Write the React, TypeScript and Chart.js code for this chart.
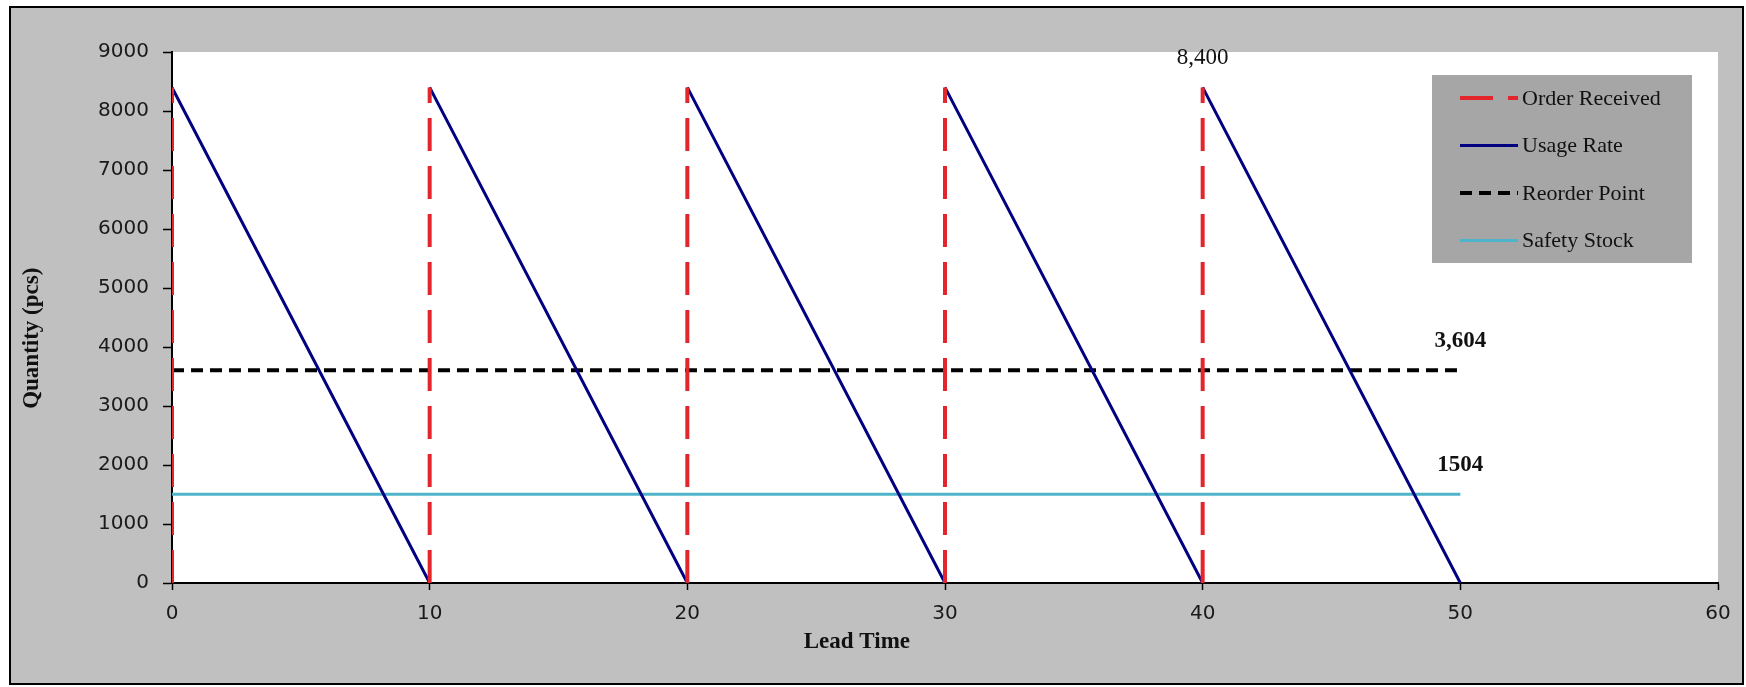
import React, { useEffect, useRef } from 'react';
import { Chart, registerables } from 'chart.js';

Chart.register(...registerables);

// ---- data ----
const cycleStart = [0, 10, 20, 30, 40];
const cycleEnd = [10, 20, 30, 40, 50];
const orderQuantity = 8400;
const reorderPoint = 3604;
const safetyStock = 1504;
const levelRange = [0, 50];
const seriesNames = ['Order Received', 'Usage Rate', 'Reorder Point', 'Safety Stock'];
const calloutText = ['8,400', '3,604', '1504'];
const xTicks = [0, 10, 20, 30, 40, 50, 60];
const yTicks = [0, 1000, 2000, 3000, 4000, 5000, 6000, 7000, 8000, 9000];
const xTitle = 'Lead Time';
const yTitle = 'Quantity (pcs)';

const SERIF = '"Liberation Serif", "Times New Roman", serif';
const SANS = '"DejaVu Sans", Verdana, sans-serif';

function buildOrder() {
  const pts: any[] = [];
  cycleStart.forEach((t) => {
    pts.push({ x: t, y: 0 }, { x: t, y: orderQuantity }, { x: t, y: null });
  });
  return pts;
}
function buildUsage() {
  const pts: any[] = [];
  cycleStart.forEach((t, i) => {
    pts.push({ x: t, y: orderQuantity }, { x: cycleEnd[i], y: 0 }, { x: cycleEnd[i], y: null });
  });
  return pts;
}

const decorPlugin = {
  id: 'decor',
  beforeDraw(chart: any) {
    const { ctx, width, height, chartArea } = chart;
    ctx.save();
    ctx.fillStyle = '#ffffff';
    ctx.fillRect(0, 0, width, height);
    ctx.fillStyle = '#c0c0c0';
    ctx.fillRect(10, 7, width - 13, height - 10);
    ctx.strokeStyle = '#000';
    ctx.lineWidth = 2;
    ctx.strokeRect(10, 7, width - 13, height - 10);
    ctx.fillStyle = '#ffffff';
    ctx.fillRect(chartArea.left, chartArea.top, chartArea.right - chartArea.left, chartArea.bottom - chartArea.top);
    ctx.restore();
  },
  afterDraw(chart: any) {
    const { ctx, chartArea, scales } = chart;
    const xs = scales.x;
    const ys = scales.y;
    ctx.save();
    // axis titles
    ctx.fillStyle = '#111';
    ctx.font = `bold 23px ${SERIF}`;
    ctx.textAlign = 'center';
    ctx.textBaseline = 'middle';
    const w = chartArea.right - chartArea.left;
    const h = chartArea.bottom - chartArea.top;
    ctx.fillText(xTitle, chartArea.left + w * 0.443, chartArea.bottom + 59);
    ctx.save();
    ctx.translate(chartArea.left - 140, chartArea.top + h * 0.539);
    ctx.rotate(-Math.PI / 2);
    ctx.fillText(yTitle, 0, 0);
    ctx.restore();

    // callouts
    const anchors = [
      { x: xs.getPixelForValue(cycleStart[cycleStart.length - 1]), y: ys.getPixelForValue(orderQuantity), bold: false },
      { x: xs.getPixelForValue(levelRange[1]), y: ys.getPixelForValue(reorderPoint), bold: true },
      { x: xs.getPixelForValue(levelRange[1]), y: ys.getPixelForValue(safetyStock), bold: true },
    ];
    anchors.forEach((a, i) => {
      ctx.font = `${a.bold ? 'bold ' : ''}23px ${SERIF}`;
      ctx.fillText(calloutText[i], a.x, a.y - 29);
    });

    // legend
    const lx = chartArea.right - 286;
    const ly = chartArea.top + 23;
    ctx.fillStyle = '#a6a6a6';
    ctx.fillRect(lx, ly, 260, 188);
    ctx.textAlign = 'left';
    ctx.font = `22px ${SERIF}`;
    chart.data.datasets.forEach((ds: any, i: number) => {
      const yy = ly + 23 + i * 47.5;
      ctx.strokeStyle = ds.borderColor;
      ctx.lineWidth = ds.borderWidth;
      ctx.setLineDash(ds.borderDash || []);
      ctx.beginPath();
      ctx.moveTo(lx + 28, yy);
      ctx.lineTo(lx + 86, yy);
      ctx.stroke();
      ctx.setLineDash([]);
      ctx.fillStyle = '#111';
      ctx.fillText(ds.label, lx + 90, yy + 1);
    });
    ctx.restore();
  },
};

export default function App() {
  const ref = useRef<HTMLCanvasElement>(null);
  useEffect(() => {
    document.body.style.margin = '0';
    const chart = new Chart(ref.current as HTMLCanvasElement, {
      type: 'line',
      data: {
        datasets: [
          {
            label: seriesNames[0],
            data: buildOrder(),
            borderColor: '#e3262b',
            borderWidth: 4,
            borderDash: [33, 15],
            pointRadius: 0,
            spanGaps: false,
          },
          {
            label: seriesNames[1],
            data: buildUsage(),
            borderColor: '#000080',
            borderWidth: 3,
            pointRadius: 0,
            spanGaps: false,
          },
          {
            label: seriesNames[2],
            data: levelRange.map((x) => ({ x, y: reorderPoint })),
            borderColor: '#000000',
            borderWidth: 4,
            borderDash: [12, 7],
            pointRadius: 0,
          },
          {
            label: seriesNames[3],
            data: levelRange.map((x) => ({ x, y: safetyStock })),
            borderColor: '#4fb3c9',
            borderWidth: 3,
            pointRadius: 0,
          },
        ] as any,
      },
      options: {
        animation: false,
        responsive: false,
        layout: { padding: { left: 0, top: 52, right: 28, bottom: 0 } },
        plugins: { legend: { display: false }, tooltip: { enabled: false } },
        scales: {
          x: {
            type: 'linear',
            min: xTicks[0],
            max: xTicks[xTicks.length - 1],
            afterBuildTicks: (s: any) => { s.ticks = xTicks.map((v) => ({ value: v })); },
            afterFit: (s: any) => { s.height = 104; },
            grid: { drawOnChartArea: false, drawTicks: true, tickLength: 7, tickColor: '#000', tickWidth: 1.5 },
            border: { display: true, color: '#000', width: 2 },
            ticks: { color: '#1a1a1a', font: { family: SANS, size: 20 }, padding: 12, maxRotation: 0, callback: (v: any) => String(v) },
          },
          y: {
            type: 'linear',
            min: yTicks[0],
            max: yTicks[yTicks.length - 1],
            afterBuildTicks: (s: any) => { s.ticks = yTicks.map((v) => ({ value: v })); },
            afterFit: (s: any) => { s.width = 172; },
            grid: { drawOnChartArea: false, drawTicks: true, tickLength: 9, tickColor: '#000', tickWidth: 1.5 },
            border: { display: true, color: '#000', width: 2 },
            ticks: { color: '#1a1a1a', font: { family: SANS, size: 20 }, padding: 14, callback: (v: any) => String(v) },
          },
        },
      } as any,
      plugins: [decorPlugin],
    });
    return () => chart.destroy();
  }, []);
  return (
    <div style={{ position: 'fixed', left: 0, top: 0, width: 1746, height: 687 }}>
      <canvas ref={ref} width={1746} height={687} style={{ width: 1746, height: 687, display: 'block' }} />
    </div>
  );
}
